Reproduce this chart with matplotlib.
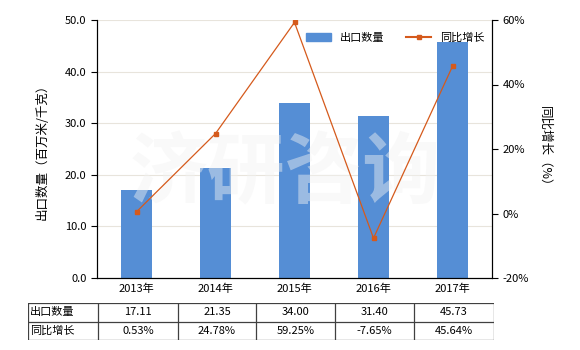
import matplotlib
matplotlib.use("Agg")
import matplotlib.pyplot as plt
import matplotlib.ticker as ticker
from matplotlib.lines import Line2D

plt.rcParams['font.family'] = ['Noto Sans CJK SC', 'DejaVu Sans']

years = ["2013年", "2014年", "2015年", "2016年", "2017年"]
export_qty = [17.11, 21.35, 34.00, 31.40, 45.73]
growth = [0.53, 24.78, 59.25, -7.65, 45.64]
qty_labels = ["17.11", "21.35", "34.00", "31.40", "45.73"]
growth_labels = ["0.53%", "24.78%", "59.25%", "-7.65%", "45.64%"]

bar_color = "#558ed5"
line_color = "#d55a1c"
fs = 8

fig = plt.figure(figsize=(5.8, 3.5), dpi=100)
ax = fig.add_axes([97 / 580, 1 - 278 / 350, 395 / 580, 258 / 350])
x = list(range(len(years)))

ax.bar(x, export_qty, width=0.4, color=bar_color, zorder=2, label="出口数量")
ax.set_ylim(0, 50)
ax.set_xlim(-0.5, len(years) - 0.5)
ax.yaxis.set_major_locator(ticker.MultipleLocator(10))
ax.yaxis.set_major_formatter(ticker.FormatStrFormatter('%.1f'))
ax.grid(axis='y', color='#e8e4dc', linewidth=0.8, zorder=0)
ax.set_xticks(x)
ax.set_xticklabels(years, fontsize=fs)
ax.tick_params(axis='y', labelsize=fs, length=4)
ax.tick_params(axis='x', length=0, pad=4)
ax.spines['top'].set_visible(False)
ax.set_ylabel("出口数量（百万米/千克）", fontsize=fs + 1, labelpad=12)

# watermark, faint and over the bars
ax.text(0.476, 0.40, "济研咨询", transform=ax.transAxes, fontsize=56,
        color='#f2f2f2', alpha=0.45, ha='center', va='center', zorder=3,
        fontweight='bold')

ax2 = ax.twinx()
ax2.plot(x, growth, color=line_color, linewidth=0.9, marker='s',
         markersize=3.5, zorder=3, label="同比增长")
ax2.set_ylim(-20, 60)
ax2.yaxis.set_major_locator(ticker.MultipleLocator(20))
ax2.yaxis.set_major_formatter(ticker.FuncFormatter(lambda v, p: f"{v:.0f}%"))
ax2.tick_params(axis='y', labelsize=fs, length=4)
ax2.spines['top'].set_visible(False)
ax2.set_ylabel("同比增长（%）", fontsize=fs + 1, rotation=270, labelpad=16)

handles = [plt.Rectangle((0, 0), 1, 1, color=bar_color),
           Line2D([0], [0], color=line_color, marker='s', markersize=3.5,
                  linewidth=1.5)]
ax.legend(handles, ["出口数量", "同比增长"], ncol=2, frameon=False,
          fontsize=fs, loc='upper center', bbox_to_anchor=(0.755, 0.99),
          handlelength=2.2, columnspacing=2.0)

# data table below the chart
tab = fig.add_axes([28 / 580, 1 - 340 / 350, 466 / 580, 37 / 350])
tab.set_xlim(28, 494)
tab.set_ylim(0, 2)
tab.axis('off')
col_edges = [28, 98, 178, 256, 335, 414, 494]
for cx in col_edges:
    tab.plot([cx, cx], [0, 2], color='#404040', linewidth=0.9)
for ry in [0, 1, 2]:
    tab.plot([28, 494], [ry, ry], color='#404040', linewidth=0.9)
rows = [("出口数量", qty_labels), ("同比增长", growth_labels)]
for i, (name, vals) in enumerate(rows):
    yc = 1.5 - i
    tab.text(30, yc, name, fontsize=fs, ha='left', va='center')
    for j, v in enumerate(vals):
        xc = (col_edges[j + 1] + col_edges[j + 2]) / 2
        tab.text(xc, yc, v, fontsize=fs, ha='center', va='center')

fig.savefig("out.png", dpi=100)
